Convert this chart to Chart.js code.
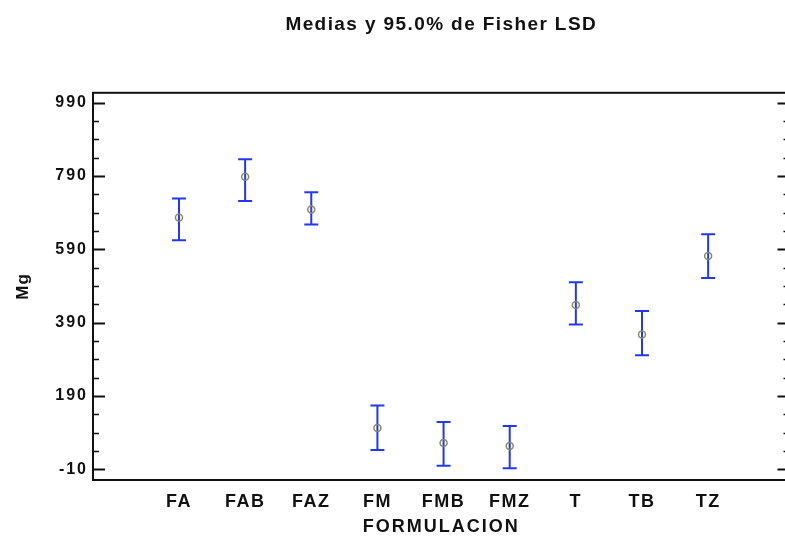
<!DOCTYPE html>
<html>
<head>
<meta charset="utf-8">
<script src="https://cdn.jsdelivr.net/npm/chart.js@4"></script>
<style>
  html, body { margin: 0; padding: 0; background: #fff; overflow: hidden; }
  #clip { width: 785px; height: 536px; overflow: hidden; }
  #lsdChart { display: block; }
</style>
</head>
<body>
<div id="clip"><canvas id="lsdChart" width="795" height="536"></canvas></div>
<script>
const categories = ['FA', 'FAB', 'FAZ', 'FM', 'FMB', 'FMZ', 'T', 'TB', 'TZ'];
const means = [677, 788, 699, 103, 62, 54, 438, 358, 572];
const lower = [615, 722, 658, 43, 0, -7, 385, 301, 512];
const upper = [729, 836, 746, 164, 119, 108, 500, 422, 631];
const yTickValues = [-10, 190, 390, 590, 790, 990];
const yMinorValues = [40, 90, 140, 240, 290, 340, 440, 490, 540, 640, 690, 740, 840, 890, 940];

const family = "'Liberation Sans', Arial, sans-serif";

// the reference text is spaced out a little, so widen letters per scale
function spaced(scale, labelsGap, titleGap) {
    const drawLabels = scale.drawLabels, drawTitle = scale.drawTitle;
    scale.drawLabels = function (area) {
        this.ctx.save(); this.ctx.letterSpacing = labelsGap;
        drawLabels.call(this, area);
        this.ctx.restore();
    };
    scale.drawTitle = function (area) {
        this.ctx.save(); this.ctx.letterSpacing = titleGap;
        drawTitle.call(this, area);
        this.ctx.restore();
    };
}

const titleSpacing = {
    id: 'titleSpacing',
    beforeDraw(chart) { chart.ctx.letterSpacing = '1.4px'; },
    beforeDatasetsDraw(chart) { chart.ctx.letterSpacing = '0px'; }
};

// error bars (LSD intervals), drawn through the chart scales
const errorBars = {
    id: 'errorBars',
    beforeDatasetsDraw(chart) {
        const ctx = chart.ctx, xs = chart.scales.x, ys = chart.scales.y;
        ctx.save();
        ctx.strokeStyle = '#2238ee';
        ctx.lineWidth = 2;
        categories.forEach((c, i) => {
            const x = xs.getPixelForValue(i + 1);
            const yT = ys.getPixelForValue(upper[i]);
            const yB = ys.getPixelForValue(lower[i]);
            ctx.beginPath();
            ctx.moveTo(x, yT); ctx.lineTo(x, yB);
            ctx.moveTo(x - 7, yT); ctx.lineTo(x + 7, yT);
            ctx.moveTo(x - 7, yB); ctx.lineTo(x + 7, yB);
            ctx.stroke();
        });
        ctx.restore();
    }
};

// box frame with inward ticks on both sides (right side runs past the picture edge)
const frameTicks = {
    id: 'frameTicks',
    afterDraw(chart) {
        const ctx = chart.ctx, a = chart.chartArea, ys = chart.scales.y;
        ctx.save();
        ctx.strokeStyle = '#111';
        ctx.lineWidth = 2;
        ctx.strokeRect(a.left, a.top, a.right - a.left, a.bottom - a.top);
        ctx.beginPath();
        const tick = (v, len) => {
            const y = Math.round(ys.getPixelForValue(v)) + 0.5;
            ctx.moveTo(a.left, y); ctx.lineTo(a.left + len, y);
            ctx.moveTo(a.right, y); ctx.lineTo(a.right - len, y);
        };
        yTickValues.forEach(v => tick(v, 12));
        ctx.stroke();
        ctx.beginPath();
        ctx.lineWidth = 1.5;
        yMinorValues.forEach(v => tick(v, 6));
        ctx.stroke();
        ctx.restore();
    }
};

new Chart(document.getElementById('lsdChart'), {
    type: 'scatter',
    data: {
        datasets: [{
            data: means.map((m, i) => ({ x: i + 1, y: m })),
            pointStyle: 'circle',
            pointRadius: 3.5,
            pointBorderWidth: 1.5,
            pointBorderColor: '#8a8a62',
            pointBackgroundColor: 'rgba(0,0,0,0)'
        }]
    },
    options: {
        responsive: false,
        animation: false,
        layout: { padding: { left: 0, right: 2, top: 0, bottom: 0 } },
        plugins: {
            legend: { display: false },
            tooltip: { enabled: false },
            title: {
                display: true,
                text: 'Medias y 95.0% de Fisher LSD',
                fullSize: false,
                color: '#111',
                font: { family: family, size: 19, weight: 'bold' },
                padding: { top: 13, bottom: 57 }
            }
        },
        scales: {
            x: {
                type: 'linear',
                min: -0.3,
                max: 10.23,
                afterBuildTicks: s => { s.ticks = categories.map((c, i) => ({ value: i + 1 })); },
                afterFit: s => {
                    s.height = 56;
                    spaced(s, '1.5px', '2px');
                },
                grid: { display: false, drawTicks: false },
                border: { display: false },
                ticks: {
                    autoSkip: false,
                    maxRotation: 0,
                    padding: 11,
                    color: '#111',
                    font: { family: family, size: 18, weight: 'bold' },
                    callback: v => categories[v - 1]
                },
                title: {
                    display: true,
                    text: 'FORMULACION',
                    color: '#111',
                    font: { family: family, size: 18, weight: 'bold' },
                    padding: { top: 0, bottom: -2 }
                }
            },
            y: {
                min: -39,
                max: 1017,
                afterBuildTicks: s => { s.ticks = yTickValues.map(v => ({ value: v })); },
                afterFit: s => {
                    s.width = 93;
                    spaced(s, '2px', '1px');
                },
                grid: { display: false, drawTicks: false },
                border: { display: false },
                ticks: {
                    padding: 5,
                    color: '#111',
                    font: { family: family, size: 16, weight: 'bold' }
                },
                title: {
                    display: true,
                    text: 'Mg',
                    color: '#111',
                    font: { family: family, size: 17, weight: 'bold' },
                    padding: { top: 13, bottom: 0 }
                }
            }
        }
    },
    plugins: [titleSpacing, errorBars, frameTicks]
});
</script>
</body>
</html>
